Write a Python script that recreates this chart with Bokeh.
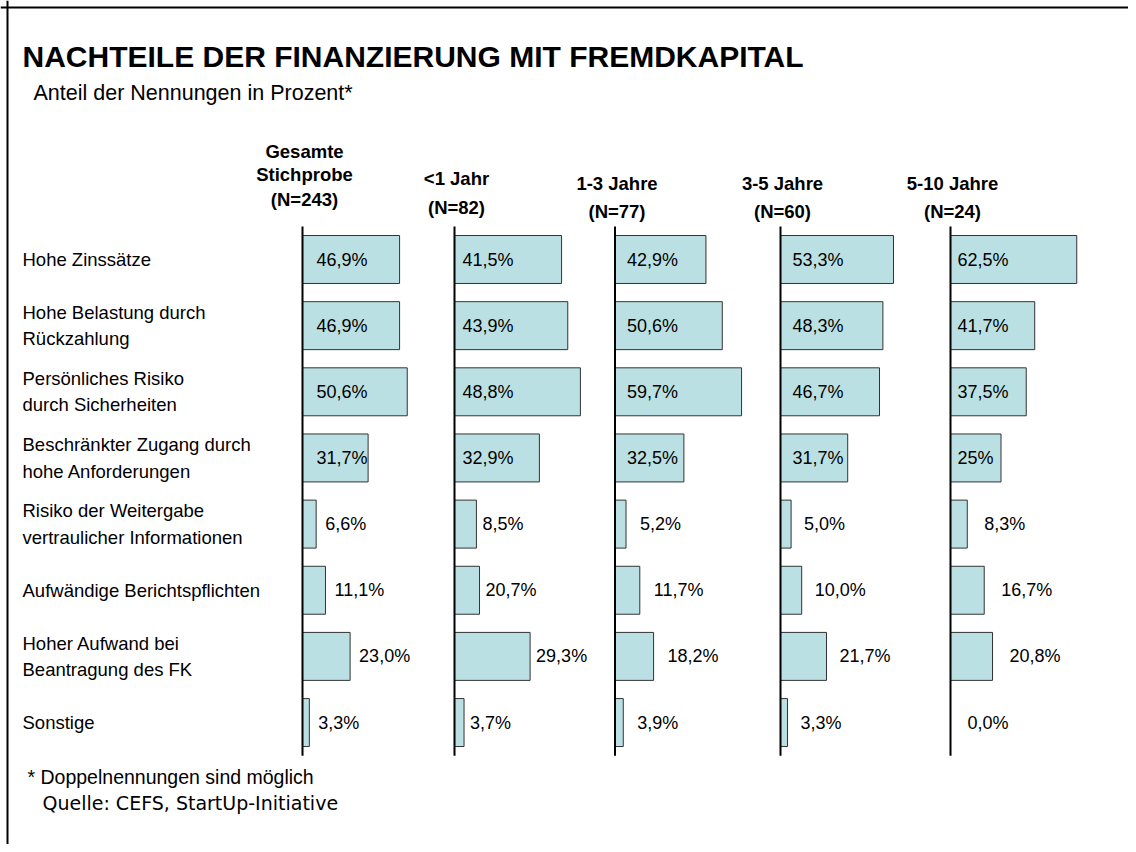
from bokeh.plotting import figure
from bokeh.models import Range1d, ColumnDataSource, Span
from bokeh.core.properties import value
from bokeh.embed import file_html
from bokeh.resources import INLINE

# ---------------- data ----------------
categories = [
    "Hohe Zinssätze",
    "Hohe Belastung durch\nRückzahlung",
    "Persönliches Risiko\ndurch Sicherheiten",
    "Beschränkter Zugang  durch\nhohe Anforderungen",
    "Risiko der Weitergabe\nvertraulicher Informationen",
    "Aufwändige Berichtspflichten",
    "Hoher Aufwand bei\nBeantragung des FK",
    "Sonstige",
]
group_names = ["Gesamte\nStichprobe", "<1 Jahr", "1-3 Jahre", "3-5 Jahre", "5-10 Jahre"]
group_n = ["(N=243)", "(N=82)", "(N=77)", "(N=60)", "(N=24)"]

# bar lengths as drawn (percent)
gesamt = [46.9, 46.9, 50.6, 31.7, 6.6, 11.1, 23.0, 3.3]
unter1 = [41.5, 43.9, 48.8, 32.9, 8.5, 9.7, 29.3, 3.7]
j1_3 = [42.9, 50.6, 59.7, 32.5, 5.2, 11.7, 18.2, 3.9]
j3_5 = [53.3, 48.3, 46.7, 31.7, 5.0, 10.0, 21.7, 3.3]
j5_10 = [62.5, 41.7, 37.5, 25.0, 8.3, 16.7, 20.8, 0.0]

# printed labels
lab_gesamt = ["46,9%", "46,9%", "50,6%", "31,7%", "6,6%", "11,1%", "23,0%", "3,3%"]
lab_unter1 = ["41,5%", "43,9%", "48,8%", "32,9%", "8,5%", "20,7%", "29,3%", "3,7%"]
lab_j1_3 = ["42,9%", "50,6%", "59,7%", "32,5%", "5,2%", "11,7%", "18,2%", "3,9%"]
lab_j3_5 = ["53,3%", "48,3%", "46,7%", "31,7%", "5,0%", "10,0%", "21,7%", "3,3%"]
lab_j5_10 = ["62,5%", "41,7%", "37,5%", "25%", "8,3%", "16,7%", "20,8%", "0,0%"]

series = [gesamt, unter1, j1_3, j3_5, j5_10]
series_labels = [lab_gesamt, lab_unter1, lab_j1_3, lab_j3_5, lab_j5_10]

title = "NACHTEILE DER FINANZIERUNG MIT FREMDKAPITAL"
subtitle = "Anteil der Nennungen in Prozent*"
footnote = "* Doppelnennungen sind möglich"
source = "Quelle: CEFS, StartUp-Initiative"

# ---------------- layout constants ----------------
W, H = 1128, 844
base_px = [302, 454, 614.5, 780, 950]      # column baseline (px from left)
px_per_pct = [2.07, 2.58, 2.12, 2.12, 2.02]  # scale of each column
row0_px, row_step = 259, 66.15             # first row centre / row spacing
inside_rows = 4                            # first rows: labels inside bars
in_off = [14, 8, 12, 12, 7]
out_off = [9, 6, 14, 13, 17]
head_y = [[151, 174, 199], [178, 207], [183, 211], [183, 211], [183, 211]]

FONT = value("Liberation Sans")
BAR_FILL = "#BBE0E3"

p = figure(width=W, height=H, output_backend="svg", toolbar_location=None,
           x_range=Range1d(0, W), y_range=Range1d(H, 0),
           min_border=0, min_border_left=0, min_border_right=0,
           min_border_top=0, min_border_bottom=0)
p.axis.visible = False
p.grid.visible = False
p.outline_line_color = None
p.background_fill_color = "white"
p.border_fill_color = "white"

# row range: row index -> vertical position
p.extra_y_ranges = {"rows": Range1d((H - row0_px) / row_step, -row0_px / row_step)}
for c in range(len(series)):
    p.extra_x_ranges["c%d" % c] = Range1d(-base_px[c] / px_per_pct[c],
                                          (W - base_px[c]) / px_per_pct[c])

# frame lines (top and left)
p.add_layout(Span(location=7, dimension="width", line_color="black", line_width=2))
p.add_layout(Span(location=7, dimension="height", line_color="black", line_width=2))

# titles
p.text(x=[22], y=[56], text=[title], text_font=FONT, text_font_style="bold",
       text_font_size="30px", text_baseline="middle", text_color="black")
p.text(x=[33], y=[92], text=[subtitle], text_font=FONT,
       text_font_size="21.5px", text_baseline="middle", text_color="black")

# category labels
rows = list(range(len(categories)))
p.text(x=[22] * len(categories), y=rows, text=categories, y_range_name="rows",
       text_font=FONT, text_font_size="18.5px", text_baseline="middle",
       text_line_height=1.25, text_color="black")

for c, vals in enumerate(series):
    rn = "c%d" % c
    # header
    names = group_names[c].split("\n") + [group_n[c]]
    p.text(x=[0] * len(names), y=head_y[c], text=names, x_range_name=rn,
           x_offset=2, text_font=FONT, text_font_style="bold", text_font_size="18.5px",
           text_align="center", text_baseline="middle", text_color="black")
    # bars
    src = ColumnDataSource(dict(
        y=rows, right=vals, lab=series_labels[c],
        lx=[0 if i < inside_rows else v for i, v in enumerate(vals)],
        off=[in_off[c] if i < inside_rows else out_off[c] for i in rows],
    ))
    p.hbar(y="y", left=0, right="right", height=0.725, source=src,
           x_range_name=rn, y_range_name="rows",
           fill_color=BAR_FILL, line_color="#333333", line_width=1)
    # axis line
    p.segment(x0=[0], x1=[0], y0=[-0.5], y1=[len(categories) - 0.5],
              x_range_name=rn, y_range_name="rows", line_color="black", line_width=2)
    # value labels
    p.text(x="lx", y="y", text="lab", x_offset="off", source=src,
           x_range_name=rn, y_range_name="rows", text_font=FONT,
           text_font_size="18px", text_baseline="middle", text_color="black")

# footnotes
p.text(x=[27], y=[776], text=[footnote], text_font=FONT, text_font_size="19.5px",
       text_baseline="middle", text_color="black")
p.text(x=[42], y=[802], text=[source], text_font=value("DejaVu Sans"),
       text_font_size="19px", text_baseline="middle", text_color="black")

open("out.html", "w").write(file_html(p, INLINE))
